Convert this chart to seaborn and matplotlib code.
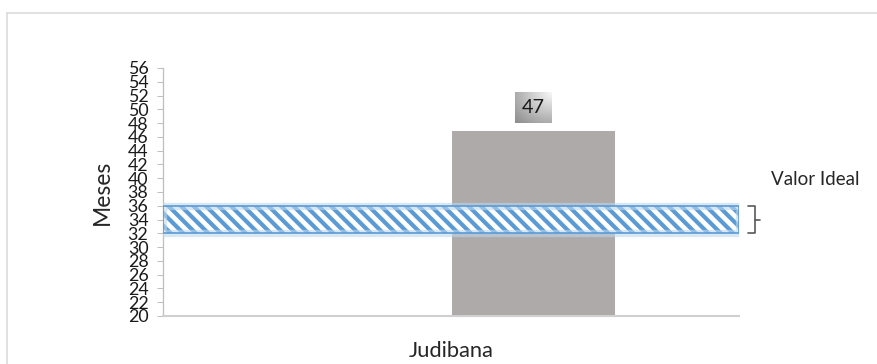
import numpy as np
import pandas as pd
import matplotlib
matplotlib.use("Agg")
import matplotlib.pyplot as plt
import matplotlib.transforms as mtransforms
from matplotlib.lines import Line2D
from matplotlib.patches import Rectangle
import seaborn as sns

# --- data -------------------------------------------------------------
municipios = ["Judibana"]
serie = ["Meses"]
meses = [47]
series_order = ["Valor Ideal", "Meses"]
ideal_min = 32
ideal_max = 36
yticks = list(range(20, 57, 2))

df = pd.DataFrame({"Municipio": municipios, "Serie": serie, "Meses": meses})

# --- style ------------------------------------------------------------
sns.set_theme(style="white")
plt.rcParams["font.family"] = ["Lato", "DejaVu Sans"]
plt.rcParams["hatch.linewidth"] = 4.0

DPI = 75
W, H = 877, 364
fig = plt.figure(figsize=(W / DPI, H / DPI), dpi=DPI)
fig.patch.set_facecolor("white")

ax = fig.add_axes([163 / W, (H - 316) / H, 576 / W, 248 / H])
ax.patch.set_visible(False)
ax.set_zorder(2)

sns.barplot(
    data=df, x="Municipio", y="Meses", hue="Serie", hue_order=series_order,
    palette={"Valor Ideal": "#5b9bd5", "Meses": "#aeaaa9"},
    width=0.57, dodge=True, saturation=1, legend=False, ax=ax, zorder=2,
)

ax.set_xlim(-0.5, 0.5)
ax.set_ylim(yticks[0], yticks[-1])
ax.set_yticks(yticks)
ax.set_yticklabels([str(t) for t in yticks], fontsize=17, color="#1a1a1a")
ax.tick_params(axis="y", length=6, width=1, color="#bfbfbf", pad=8, left=True)
ax.tick_params(axis="x", length=0, pad=24, labelsize=21, labelcolor="#262626")
ax.set_xlabel("")
ax.set_ylabel("Meses", fontsize=22, color="#262626", labelpad=14)

for side in ["top", "right"]:
    ax.spines[side].set_visible(False)
ax.spines["left"].set_color("#bfbfbf")
ax.spines["bottom"].set_color("#d0d0d0")
ax.spines["bottom"].set_linewidth(2)

# --- ideal range band -------------------------------------------------
xtr = mtransforms.blended_transform_factory(ax.transAxes, ax.transData)
ax.add_patch(Rectangle((0, ideal_min), 1, ideal_max - ideal_min, transform=xtr,
                       facecolor="white", edgecolor="#5b9bd5", linewidth=0,
                       hatch="\\\\", zorder=3))
ax.add_patch(Rectangle((0, ideal_min), 1, ideal_max - ideal_min, transform=xtr,
                       facecolor="none", edgecolor="#bdd7ee", linewidth=7,
                       alpha=0.6, zorder=3.5))
ax.add_patch(Rectangle((0, ideal_min), 1, ideal_max - ideal_min, transform=xtr,
                       facecolor="none", edgecolor="#5b9bd5", linewidth=1.6,
                       zorder=4))

# bracket marking the ideal range
ym = (ideal_min + ideal_max) / 2
ax.add_line(Line2D([1.016, 1.028, 1.028, 1.016], [ideal_max, ideal_max, ideal_min, ideal_min],
                   transform=xtr, color="#595959", linewidth=1.6, clip_on=False))
ax.add_line(Line2D([1.028, 1.037], [ym, ym], transform=xtr, color="#595959",
                   linewidth=1.6, clip_on=False))
ax.text(1.132, 39.8, "Valor Ideal", transform=xtr, fontsize=18, color="#262626",
        ha="center", va="center")

# --- value label --------------------------------------------------------
bar_container = [c for c in ax.containers if len(c) and c.datavalues[0] == meses[0]][0]
labels = ax.bar_label(bar_container, labels=[str(v) for v in meses], padding=13,
                      fontsize=19, color="#1a1a1a",
                      bbox=dict(boxstyle="square,pad=0.35", facecolor="none", edgecolor="none"))

# --- chart area outline ------------------------------------------------
fig.add_artist(Line2D([7 / W, 7 / W], [0, 1 - 13 / H], transform=fig.transFigure,
                      color="#d9d9d9", linewidth=1.5))
fig.add_artist(Line2D([7 / W, 1], [1 - 13 / H, 1 - 13 / H], transform=fig.transFigure,
                      color="#d9d9d9", linewidth=1.5))

# shaded gradient box behind the value label
fig.canvas.draw()
bb = labels[0].get_bbox_patch().get_window_extent()
bw, bh = int(round(bb.width)), int(round(bb.height))
yy, xx = np.mgrid[0:bh, 0:bw]
d = np.hypot((bw - 1 - xx) / max(bw - 1, 1), yy / max(bh - 1, 1)) / np.sqrt(2)
shade = 0.97 - 0.42 * d
img = np.dstack([shade, shade, shade])
fig.figimage(img, xo=int(round(bb.x0)), yo=int(round(bb.y0)), origin="upper", zorder=1)

fig.savefig("out.png", dpi=DPI, facecolor="white")
